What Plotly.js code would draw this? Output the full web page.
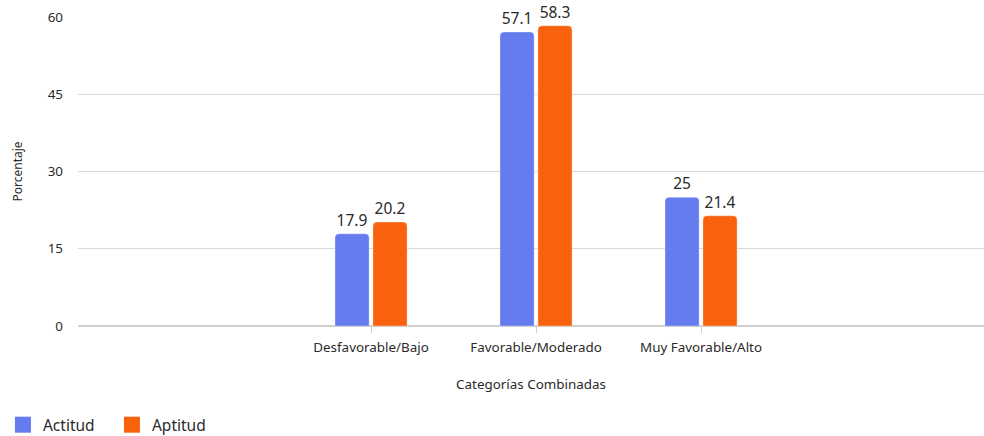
<!DOCTYPE html>
<html>
<head>
<meta charset="utf-8">
<script src="https://cdn.plot.ly/plotly-3.0.1.min.js"></script>
<style>html,body{margin:0;padding:0;background:#fff;}#chart{width:984px;height:436px;}</style>
</head>
<body>
<div id="chart"></div>
<script>
const categories = ["Desfavorable/Bajo", "Favorable/Moderado", "Muy Favorable/Alto"];
const actitud = [17.9, 57.1, 25];
const aptitud = [20.2, 58.3, 21.4];
const seriesNames = ["Actitud", "Aptitud"];
const seriesColors = ["#657CEE", "#F8620E"];
const yTicks = [0, 15, 30, 45, 60];

const font = "Noto Sans, Open Sans, sans-serif";
const txtColor = "#2a2a2a";
const values = [actitud, aptitud];
const traces = [];
values.forEach((vals, i) => {
  traces.push({type: "bar", name: seriesNames[i], x: categories, y: vals, showlegend: false,
    marker: {color: seriesColors[i], line: {color: "rgba(255,255,255,0.35)", width: 1}},
    text: vals.map(String), textposition: "outside", cliponaxis: false,
    textfont: {size: 15.5, color: txtColor, family: font}});
});
values.forEach((vals, i) => {
  traces.push({type: "scatter", mode: "markers", name: seriesNames[i], x: [null], y: [null],
    marker: {symbol: "square", size: 16, color: seriesColors[i]}, showlegend: true, hoverinfo: "skip"});
});
const layout = {
  width: 984, height: 436,
  margin: {l: 78, r: 0, t: 17, b: 110},
  paper_bgcolor: "#fff", plot_bgcolor: "#fff",
  font: {family: font, size: 13, color: txtColor},
  barmode: "group", bargap: 0.54, bargroupgap: 0.1, barcornerradius: 4,
  xaxis: {range: [-1.776, 3.715], tickmode: "array", tickvals: categories,
    ticks: "outside", ticklen: 6, tickcolor: "#cccccc", showgrid: false,
    showline: false, ticklabelstandoff: 3, tickfont: {size: 13.4, color: txtColor},
    title: {text: "Categorías Combinadas", font: {size: 13.4, color: txtColor}, standoff: 24}},
  yaxis: {range: [0, 60], tickvals: yTicks, gridcolor: "#d9d9d9", gridwidth: 1,
    zeroline: true, zerolinecolor: "#d0d0d0", zerolinewidth: 2,
    ticks: "", ticklabelstandoff: 14, tickfont: {size: 13.4, color: txtColor},
    title: {text: "Porcentaje", font: {size: 12, color: txtColor}, standoff: 22}},
  showlegend: true,
  legend: {orientation: "h", xref: "container", yref: "container", x: 0.003, y: 0.025,
    xanchor: "left", yanchor: "middle", font: {size: 15.5, color: txtColor},
    itemwidth: 30, entrywidth: 64, entrywidthmode: "pixels"}
};
Plotly.newPlot("chart", traces, layout, {displayModeBar: false});
</script>
</body>
</html>
